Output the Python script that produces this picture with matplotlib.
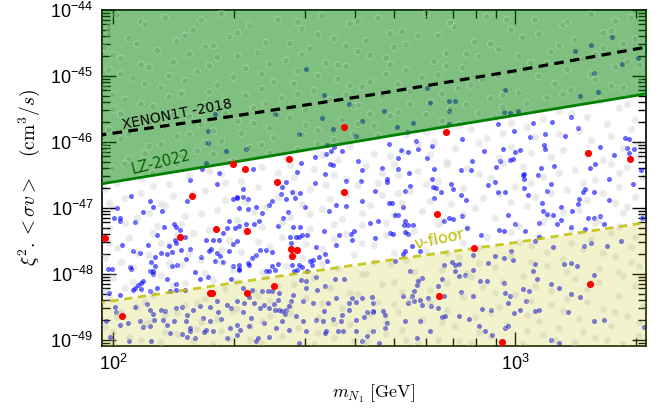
import numpy as np
import matplotlib.pyplot as plt
from matplotlib.ticker import LogLocator, FuncFormatter, NullFormatter

plt.rcParams['font.family'] = ['Liberation Sans', 'DejaVu Sans']
plt.rcParams['mathtext.fontset'] = 'cm'

# limits / exclusion curves (log10 m [GeV], log10 <sigma v> [cm^3/s])
lz_logm = [1.96, 2.30, 2.70, 3.00, 3.34]
lz_logsig = [-46.65, -46.31, -45.90, -45.60, -45.26]
xenon_logm = [1.96, 2.306, 2.644, 2.99, 3.34]
xenon_logsig = [-45.905, -45.606, -45.288, -44.935, -44.55]
nu_logm = [1.96, 2.316, 2.654, 2.993, 3.34]
nu_logsig = [-48.447, -48.126, -47.823, -47.535, -47.21]

# scan points (log10 m, log10 sigma)
red_pts = [
    (2.299, -46.344), (2.328, -46.414), (2.438, -46.262), (2.409, -46.611), (2.198, -46.823),
    (2.575, -45.783), (2.829, -45.848), (2.575, -46.768), (3.181, -46.171), (3.287, -46.262),
    (1.980, -47.459), (2.167, -47.439), (2.256, -47.323), (2.334, -47.348), (2.443, -47.621),
    (2.459, -47.636), (2.445, -47.727), (2.241, -48.292), (2.247, -48.292), (2.334, -48.292),
    (2.401, -48.182), (2.022, -48.636), (2.807, -47.091), (2.898, -47.617), (2.812, -48.338),
    (3.186, -48.156), (2.967, -49.041),
]

blue_pts = [
    # inside the excluded (green) band
    (2.480, -44.898), (2.525, -45.288), (2.520, -45.647), (2.547, -45.814), (2.462, -45.889),
    (2.403, -45.586), (2.236, -45.838), (2.236, -46.020), (2.282, -46.147), (2.331, -46.111),
    (2.231, -46.329), (2.551, -46.086), (2.254, -45.580), (2.587, -45.420), (2.619, -45.686),
    (2.532, -46.056), (2.604, -45.920), (2.782, -45.182), (2.790, -45.405), (2.837, -45.389),
    (2.851, -45.389), (2.674, -45.530), (2.836, -45.530), (2.747, -45.723), (2.706, -45.773),
    (2.837, -45.727), (2.732, -45.853), (2.974, -45.556), (2.976, -45.208), (2.988, -45.565),
    (3.242, -44.405), (3.190, -44.526), (3.150, -44.617), (3.307, -44.727), (3.266, -44.814),
    (3.196, -44.950), (3.208, -45.247), (3.161, -45.308), (3.007, -45.541),
    # between LZ and the neutrino floor
    (2.688, -46.035), (2.754, -45.995), (2.716, -46.132), (2.735, -46.152), (2.759, -46.111),
    (2.795, -46.061), (2.868, -45.959), (2.958, -45.727), (2.923, -46.136), (2.709, -46.253),
    (2.782, -46.242), (2.893, -46.298), (2.963, -46.288), (2.669, -46.398), (2.709, -46.409),
    (2.736, -46.474), (2.798, -46.420), (2.866, -46.435), (2.890, -46.435), (2.953, -46.379),
    (2.987, -46.277), (3.045, -45.708), (3.092, -45.697), (3.140, -45.632), (3.158, -45.792),
    (2.997, -45.833), (3.076, -45.879), (3.037, -45.929), (3.125, -45.914), (3.273, -45.944),
    (3.285, -45.965), (3.072, -46.045), (3.013, -46.121), (3.074, -46.117), (3.211, -46.086),
    (3.278, -46.095), (3.296, -46.106), (3.001, -46.152), (3.246, -46.197), (3.283, -46.167),
    (2.995, -46.262), (3.188, -46.394), (3.200, -46.344), (3.065, -46.394), (3.097, -46.374),
    (3.022, -46.489), (3.314, -46.429), (2.348, -46.414), (2.502, -46.232), (2.530, -46.182),
    (2.542, -46.147), (2.611, -46.288), (2.619, -46.435), (2.547, -46.353), (2.467, -46.329),
    (2.458, -46.455), (2.528, -46.489), (2.223, -46.420), (2.264, -46.474), (2.571, -46.147),
    (2.540, -46.344), (2.971, -46.111),
    (2.191, -46.576), (2.258, -46.641), (2.298, -46.864), (2.308, -46.854), (2.046, -46.818),
    (2.092, -46.904), (2.100, -46.995), (2.075, -47.066), (2.122, -47.045), (2.185, -46.904),
    (2.011, -47.010), (2.003, -47.157), (2.019, -47.157), (2.019, -47.207), (2.055, -47.217),
    (2.127, -47.288), (2.152, -47.247), (2.157, -47.298), (2.167, -47.338), (2.109, -47.409),
    (2.179, -47.439), (2.154, -47.485), (2.140, -47.576), (2.158, -47.535), (2.169, -47.641),
    (2.146, -47.672), (2.134, -47.702), (2.120, -47.692), (2.024, -47.566), (2.051, -47.651),
    (2.067, -47.682), (2.088, -47.561), (2.105, -47.752), (2.096, -47.823), (2.105, -47.889),
    (2.092, -47.954), (2.100, -47.965), (2.100, -48.005), (2.146, -47.889), (2.160, -47.864),
    (2.182, -47.778), (2.192, -47.621), (2.220, -47.752), (2.238, -47.651), (2.243, -47.621),
    (2.258, -47.687), (2.231, -47.485), (2.248, -47.485), (2.265, -47.485), (2.274, -47.384),
    (2.284, -47.308), (2.289, -47.207), (2.303, -47.308), (2.309, -47.500), (2.298, -47.550),
    (2.289, -47.651), (2.266, -47.737), (2.254, -47.803), (2.274, -47.823), (2.298, -47.889),
    (2.314, -47.929), (2.205, -47.980), (2.216, -48.076), (2.236, -48.045), (2.293, -48.076),
    (1.988, -47.924), (1.999, -47.929), (2.042, -47.894), (2.046, -47.924), (2.075, -48.106),
    (2.071, -48.141), (2.063, -48.177), (2.134, -48.081), (2.158, -48.156), (2.054, -48.217),
    (2.071, -48.227), (2.019, -48.328), (1.991, -48.293), (2.051, -48.242), (2.092, -48.268),
    (2.110, -48.217), (2.142, -48.257), (2.158, -48.242), (2.179, -48.242),
    (2.323, -46.712), (2.309, -46.843), (2.324, -46.843), (2.336, -46.874), (2.314, -47.005),
    (2.336, -47.025), (2.357, -46.990), (2.371, -47.086), (2.389, -46.965), (2.397, -46.904),
    (2.430, -46.611), (2.422, -46.692), (2.419, -46.793), (2.430, -46.874), (2.445, -46.763),
    (2.454, -46.854), (2.465, -46.778), (2.502, -46.621), (2.478, -46.985), (2.538, -47.045),
    (2.555, -46.965), (2.580, -46.980), (2.581, -46.591), (2.617, -46.591), (2.619, -46.894),
    (2.639, -47.227), (2.600, -47.359), (2.592, -47.399), (2.594, -47.485), (2.555, -47.561),
    (2.563, -47.409), (2.526, -47.359), (2.505, -47.601), (2.512, -47.752), (2.490, -47.803),
    (2.495, -47.874), (2.470, -47.894), (2.482, -47.965), (2.459, -47.939), (2.451, -47.965),
    (2.464, -47.864), (2.445, -47.874), (2.410, -47.853), (2.397, -47.889), (2.404, -47.939),
    (2.381, -47.954), (2.389, -47.965), (2.356, -47.712), (2.347, -47.763), (2.335, -47.833),
    (2.339, -47.874), (2.314, -47.939), (2.314, -47.864), (2.366, -47.636), (2.382, -47.636),
    (2.396, -47.672), (2.314, -47.283), (2.331, -47.247), (2.352, -47.247), (2.364, -47.207),
    (2.412, -47.283), (2.424, -47.157), (2.435, -47.066), (2.447, -47.298), (2.455, -47.449),
    (2.464, -47.449), (2.470, -47.409), (2.465, -47.298), (2.482, -47.419), (2.440, -47.449),
    (2.443, -47.535), (2.528, -47.697), (2.532, -47.813), (2.497, -47.788),
    (2.682, -46.561), (2.681, -46.611), (2.740, -46.667), (2.727, -46.742), (2.794, -46.561),
    (2.796, -46.692), (2.804, -46.702), (2.816, -46.763), (2.800, -46.854), (2.840, -46.641),
    (2.847, -46.712), (2.866, -46.813), (2.878, -46.879), (2.934, -46.662), (2.951, -46.611),
    (2.959, -46.763), (2.976, -46.763), (2.653, -46.753), (2.686, -46.929), (2.694, -46.929),
    (2.721, -46.990), (2.702, -47.116), (2.709, -47.116), (2.659, -47.207), (2.727, -47.207),
    (2.725, -47.268), (2.735, -47.268), (2.746, -47.268), (2.727, -47.369), (2.735, -47.399),
    (2.690, -47.384), (2.696, -47.399), (2.837, -47.157), (2.845, -47.167), (2.825, -47.197),
    (2.868, -47.121), (2.881, -47.308), (2.916, -47.419), (2.961, -47.333), (2.972, -47.348),
    (2.765, -47.651), (2.727, -47.662), (2.721, -47.702), (2.744, -47.586), (2.651, -47.460),
    (3.020, -46.500), (3.024, -46.571), (3.057, -46.510), (3.089, -46.636), (3.080, -46.742),
    (3.024, -46.702), (3.032, -46.813), (3.067, -46.929), (2.983, -47.106), (3.070, -47.056),
    (3.080, -47.096), (3.095, -47.106), (3.114, -46.985), (3.105, -47.242), (3.115, -47.192),
    (3.142, -47.056), (3.157, -46.944), (3.160, -46.864), (3.169, -46.763), (3.175, -46.722),
    (3.198, -46.763), (3.182, -47.157), (3.196, -47.157), (3.211, -47.121), (3.233, -46.879),
    (3.235, -46.571), (3.293, -46.641), (3.316, -47.157), (3.221, -47.247), (3.175, -47.318),
    (3.140, -47.293), (3.059, -47.237), (3.001, -47.247), (3.026, -47.359), (3.059, -47.444),
    # below the neutrino floor
    (2.005, -48.510), (2.008, -48.581), (2.055, -48.510), (2.084, -48.459), (2.092, -48.545),
    (2.100, -48.611), (2.121, -48.545), (2.129, -48.571), (2.157, -48.520), (2.171, -48.510),
    (2.185, -48.621), (2.200, -48.545), (2.216, -48.495), (2.241, -48.510), (2.258, -48.419),
    (2.262, -48.581), (2.283, -48.470), (2.295, -48.520), (2.308, -48.419), (1.983, -48.722),
    (2.017, -48.773), (2.038, -48.747), (2.067, -48.722), (2.092, -48.798), (2.125, -48.702),
    (2.134, -48.773), (2.152, -48.722), (2.182, -48.722), (2.192, -48.823), (2.193, -48.874),
    (2.225, -48.672), (2.241, -48.722), (2.270, -48.682), (2.291, -48.823), (2.309, -48.773),
    (1.993, -48.964), (2.041, -49.015), (2.096, -49.015), (2.143, -48.899), (2.171, -48.914),
    (2.185, -48.959), (2.204, -48.975), (2.226, -48.884), (2.250, -48.874), (2.283, -48.975),
    (2.308, -48.924), (2.074, -48.813), (2.102, -48.702), (2.231, -48.848),
    (2.323, -48.217), (2.347, -48.242), (2.372, -48.257), (2.385, -48.268), (2.397, -48.268),
    (2.339, -48.358), (2.352, -48.444), (2.327, -48.444), (2.366, -48.520), (2.376, -48.480),
    (2.389, -48.520), (2.401, -48.459), (2.410, -48.394), (2.404, -48.545), (2.414, -48.545),
    (2.420, -48.571), (2.430, -48.545), (2.429, -48.611), (2.439, -48.495), (2.443, -48.419),
    (2.468, -48.091), (2.480, -48.116), (2.505, -48.056), (2.480, -48.217), (2.507, -48.242),
    (2.528, -48.192), (2.553, -48.076), (2.555, -48.369), (2.575, -48.076), (2.588, -48.444),
    (2.596, -48.369), (2.606, -48.429), (2.621, -48.369), (2.644, -48.358), (2.646, -48.581),
    (2.633, -48.581), (2.625, -48.661), (2.606, -48.697), (2.588, -48.545), (2.571, -48.621),
    (2.567, -48.722), (2.559, -48.874), (2.573, -48.874), (2.530, -48.863), (2.528, -48.899),
    (2.523, -48.722), (2.505, -48.697), (2.480, -48.874), (2.472, -48.722), (2.455, -48.646),
    (2.439, -48.853), (2.422, -48.722), (2.405, -48.823), (2.389, -48.964), (2.360, -48.975),
    (2.356, -49.025), (2.316, -48.848), (2.343, -48.672), (2.376, -48.747), (2.497, -48.444),
    (2.472, -48.409), (2.447, -48.318), (2.414, -48.293), (2.526, -48.571), (2.534, -48.444),
    (2.548, -48.682), (2.604, -48.874), (2.633, -48.949), (2.621, -49.025), (2.464, -49.050),
    (2.339, -48.798), (2.323, -48.581),
    (2.702, -47.813), (2.823, -47.874), (2.843, -47.823), (2.850, -47.864), (2.860, -47.853),
    (2.897, -47.712), (2.934, -47.838), (2.951, -47.737), (2.972, -47.763), (2.740, -47.965),
    (2.769, -48.066), (2.760, -48.116), (2.756, -48.167), (2.810, -48.192), (2.820, -48.076),
    (2.850, -47.954), (2.862, -48.040), (2.876, -48.015), (2.897, -47.939), (2.930, -48.116),
    (2.914, -48.116), (2.974, -48.141), (2.976, -48.293), (2.983, -48.444), (2.940, -48.545),
    (2.918, -48.530), (2.897, -48.343), (2.866, -48.278), (2.823, -48.343), (2.785, -48.369),
    (2.750, -48.268), (2.744, -48.343), (2.765, -48.394), (2.769, -48.470), (2.750, -48.419),
    (2.735, -48.444), (2.723, -48.343), (2.673, -48.571), (2.676, -48.621), (2.648, -48.444),
    (2.648, -48.571), (2.682, -48.747), (2.677, -48.823), (2.727, -48.722), (2.765, -48.722),
    (2.810, -48.520), (2.792, -48.495), (2.827, -48.646), (2.818, -48.661), (2.860, -48.646),
    (2.885, -48.682), (2.910, -48.798), (2.926, -48.874), (2.943, -48.924), (2.976, -48.823),
    (2.789, -48.874), (2.756, -48.975), (2.648, -48.874), (2.661, -49.050),
    (2.991, -47.651), (3.051, -47.500), (3.095, -47.601), (3.173, -47.576), (3.190, -47.535),
    (3.230, -47.586), (3.265, -47.500), (2.995, -47.788), (3.049, -47.853), (3.122, -47.853),
    (3.140, -47.838), (3.155, -47.889), (3.045, -47.954), (3.056, -48.076), (3.089, -48.151),
    (3.109, -48.217), (3.020, -48.227), (3.034, -48.268), (3.140, -48.308), (3.163, -48.348),
    (2.987, -48.343), (3.027, -48.419), (2.999, -48.601), (3.012, -48.555), (3.051, -48.571),
    (3.061, -48.545), (3.132, -48.586), (3.198, -48.722), (3.221, -48.697), (3.198, -48.015),
    (2.983, -48.788), (3.090, -49.000), (3.109, -49.050), (3.322, -48.813),
]

gray_pts = [
    (2.01, -44.08), (2.13, -44.12), (2.27, -44.06), (2.41, -44.15), (2.52, -44.09), (2.66, -44.13),
    (2.78, -44.05), (2.93, -44.11), (3.05, -44.16), (3.19, -44.07), (3.29, -44.12),
    (1.99, -44.27), (2.08, -44.22), (2.20, -44.31), (2.34, -44.24), (2.47, -44.29), (2.59, -44.21),
    (2.72, -44.33), (2.85, -44.26), (2.99, -44.30), (3.12, -44.23), (3.24, -44.32),
    (2.04, -44.43), (2.16, -44.48), (2.29, -44.41), (2.38, -44.50), (2.55, -44.44), (2.63, -44.47),
    (2.76, -44.40), (2.90, -44.49), (3.02, -44.42), (3.15, -44.46), (3.30, -44.44),
    (1.98, -44.58), (2.11, -44.62), (2.23, -44.56), (2.36, -44.65), (2.49, -44.59), (2.61, -44.63),
    (2.70, -44.57), (2.83, -44.66), (2.96, -44.60), (3.09, -44.64), (3.22, -44.58),
    (2.02, -44.74), (2.15, -44.79), (2.26, -44.72), (2.43, -44.77), (2.53, -44.81), (2.68, -44.73),
    (2.80, -44.78), (2.91, -44.71), (3.04, -44.80), (3.17, -44.75), (3.28, -44.79),
    (1.99, -44.91), (2.09, -44.87), (2.21, -44.94), (2.33, -44.89), (2.46, -44.93), (2.58, -44.86),
    (2.73, -44.92), (2.87, -44.88), (3.00, -44.95), (3.13, -44.90), (3.25, -44.87),
    (2.05, -45.04), (2.18, -45.08), (2.30, -45.02), (2.40, -45.10), (2.56, -45.05), (2.64, -45.09),
    (2.77, -45.03), (2.92, -45.07), (3.06, -45.01), (3.20, -45.06), (3.31, -45.10),
    (1.98, -45.21), (2.12, -45.18), (2.24, -45.25), (2.37, -45.20), (2.50, -45.23), (2.62, -45.17),
    (2.74, -45.24), (2.86, -45.19), (3.01, -45.26), (3.14, -45.22), (3.27, -45.18),
    (2.03, -45.36), (2.14, -45.32), (2.28, -45.39), (2.42, -45.34), (2.54, -45.37), (2.67, -45.31),
    (2.79, -45.40), (2.94, -45.35), (3.08, -45.33), (3.21, -45.38),
    (2.00, -45.51), (2.10, -45.47), (2.22, -45.54), (2.35, -45.49), (2.48, -45.52), (2.60, -45.46),
    (2.71, -45.55), (2.84, -45.50), (2.97, -45.48), (3.11, -45.53), (3.26, -45.49),
    (2.06, -45.66), (2.19, -45.62), (2.31, -45.69), (2.44, -45.64), (2.57, -45.67), (2.69, -45.61),
    (2.82, -45.68), (2.95, -45.63), (3.07, -45.66), (3.18, -45.62), (3.30, -45.67),
    (1.99, -45.82), (2.13, -45.77), (2.25, -45.84), (2.39, -45.79), (2.51, -45.83), (2.65, -45.76),
    (2.78, -45.85), (2.89, -45.80), (3.03, -45.78), (3.16, -45.84), (3.29, -45.81),
    (2.02, -45.96), (2.16, -45.92), (2.27, -45.99), (2.40, -45.94), (2.55, -45.97), (2.66, -45.91),
    (2.80, -46.00), (2.93, -45.95), (3.05, -45.93), (3.19, -45.98), (3.24, -45.92),
    (1.98, -46.11), (2.09, -46.07), (2.21, -46.14), (2.34, -46.09), (2.46, -46.12), (2.59, -46.06),
    (2.72, -46.15), (2.85, -46.10), (2.99, -46.08), (3.12, -46.13), (3.27, -46.09),
    (2.04, -46.26), (2.17, -46.22), (2.30, -46.29), (2.43, -46.24), (2.56, -46.27), (2.69, -46.21),
    (2.83, -46.30), (2.96, -46.25), (3.09, -46.23), (3.22, -46.28), (3.31, -46.22),
    (2.00, -46.41), (2.12, -46.37), (2.24, -46.44), (2.37, -46.39), (2.50, -46.42), (2.63, -46.36),
    (2.76, -46.45), (2.88, -46.40), (3.02, -46.38), (3.15, -46.43), (3.28, -46.39),
    (2.07, -46.56), (2.19, -46.52), (2.32, -46.59), (2.45, -46.54), (2.58, -46.57), (2.71, -46.51),
    (2.81, -46.60), (2.94, -46.55), (3.07, -46.53), (3.20, -46.58), (3.32, -46.54),
    (1.98, -46.71), (2.10, -46.67), (2.23, -46.74), (2.36, -46.69), (2.49, -46.72), (2.61, -46.66),
    (2.74, -46.75), (2.87, -46.70), (3.00, -46.68), (3.13, -46.73), (3.26, -46.69),
    (2.03, -46.86), (2.15, -46.82), (2.28, -46.89), (2.41, -46.84), (2.54, -46.87), (2.67, -46.81),
    (2.79, -46.90), (2.92, -46.85), (3.05, -46.83), (3.18, -46.88), (3.30, -46.84),
    (2.00, -47.01), (2.13, -46.97), (2.26, -47.04), (2.38, -46.99), (2.52, -47.02), (2.64, -46.96),
    (2.77, -47.05), (2.90, -47.00), (3.03, -46.98), (3.16, -47.03), (3.28, -46.99),
    (2.06, -47.16), (2.18, -47.12), (2.31, -47.19), (2.44, -47.14), (2.57, -47.17), (2.70, -47.11),
    (2.82, -47.20), (2.95, -47.15), (3.08, -47.13), (3.21, -47.18), (3.32, -47.14),
    (1.99, -47.31), (2.11, -47.27), (2.24, -47.34), (2.37, -47.29), (2.49, -47.32), (2.62, -47.26),
    (2.75, -47.35), (2.88, -47.30), (3.01, -47.28), (3.14, -47.33), (3.26, -47.29),
    (2.04, -47.46), (2.16, -47.42), (2.29, -47.49), (2.42, -47.44), (2.55, -47.47), (2.68, -47.41),
    (2.80, -47.50), (2.93, -47.45), (3.06, -47.43), (3.19, -47.48), (3.30, -47.44),
    (2.01, -47.61), (2.14, -47.57), (2.27, -47.64), (2.39, -47.59), (2.52, -47.62), (2.65, -47.56),
    (2.78, -47.65), (2.91, -47.60), (3.04, -47.58), (3.17, -47.63), (3.29, -47.59),
    (1.98, -47.76), (2.09, -47.72), (2.22, -47.79), (2.35, -47.74), (2.47, -47.77), (2.60, -47.71),
    (2.73, -47.80), (2.86, -47.75), (2.99, -47.73), (3.12, -47.78), (3.25, -47.74),
    (2.05, -47.91), (2.17, -47.87), (2.30, -47.94), (2.43, -47.89), (2.56, -47.92), (2.69, -47.86),
    (2.82, -47.95), (2.95, -47.90), (3.08, -47.88), (3.21, -47.93), (3.31, -47.89),
    (2.00, -48.06), (2.12, -48.02), (2.25, -48.09), (2.38, -48.04), (2.50, -48.07), (2.63, -48.01),
    (2.76, -48.10), (2.89, -48.05), (3.02, -48.03), (3.15, -48.08), (3.27, -48.04),
    (2.03, -48.21), (2.15, -48.17), (2.28, -48.24), (2.41, -48.19), (2.54, -48.22), (2.67, -48.16),
    (2.79, -48.25), (2.92, -48.20), (3.05, -48.18), (3.18, -48.23), (3.30, -48.19),
    (1.99, -48.36), (2.10, -48.32), (2.23, -48.39), (2.36, -48.34), (2.48, -48.37), (2.61, -48.31),
    (2.74, -48.40), (2.87, -48.35), (3.00, -48.33), (3.13, -48.38), (3.26, -48.34),
    (2.06, -48.51), (2.18, -48.47), (2.31, -48.54), (2.44, -48.49), (2.57, -48.52), (2.70, -48.46),
    (2.83, -48.55), (2.96, -48.50), (3.09, -48.48), (3.22, -48.53), (3.32, -48.49),
    (2.01, -48.66), (2.13, -48.62), (2.26, -48.69), (2.39, -48.64), (2.51, -48.67), (2.64, -48.61),
    (2.77, -48.70), (2.90, -48.65), (3.03, -48.63), (3.16, -48.68), (3.28, -48.64),
    (1.98, -48.81), (2.08, -48.77), (2.21, -48.84), (2.34, -48.79), (2.46, -48.82), (2.59, -48.76),
    (2.72, -48.85), (2.85, -48.80), (2.98, -48.78), (3.11, -48.83), (3.24, -48.79),
    (2.04, -48.96), (2.16, -48.92), (2.29, -48.99), (2.42, -48.94), (2.55, -48.97), (2.68, -48.91),
    (2.81, -49.00), (2.94, -48.95), (3.07, -48.93), (3.20, -48.98), (3.31, -48.94),
    (2.00, -49.06), (2.12, -49.04), (2.25, -49.07), (2.37, -49.05), (2.50, -49.06), (2.63, -49.04),
    (2.76, -49.07), (2.89, -49.05), (3.02, -49.06), (3.15, -49.04), (3.27, -49.07),
    # second pass of the background scan
    (2.07, -44.18), (2.22, -44.16), (2.46, -44.19), (2.61, -44.17), (2.84, -44.20), (2.98, -44.15), (3.13, -44.19), (3.25, -44.17),
    (1.99, -44.36), (2.18, -44.39), (2.31, -44.35), (2.51, -44.38), (2.69, -44.36), (2.81, -44.39), (3.06, -44.37), (3.22, -44.35),
    (2.06, -44.52), (2.25, -44.54), (2.44, -44.51), (2.58, -44.55), (2.73, -44.53), (2.94, -44.52), (3.11, -44.54), (3.27, -44.51),
    (2.00, -44.69), (2.19, -44.67), (2.31, -44.70), (2.47, -44.68), (2.64, -44.69), (2.88, -44.67), (3.01, -44.70), (3.20, -44.68),
    (2.07, -44.83), (2.24, -44.85), (2.39, -44.82), (2.56, -44.84), (2.69, -44.83), (2.83, -44.85), (3.08, -44.82), (3.31, -44.84),
    (2.02, -44.98), (2.14, -45.00), (2.37, -44.97), (2.51, -45.00), (2.68, -44.98), (2.81, -44.99), (2.96, -45.00), (3.19, -44.98),
    (2.08, -45.13), (2.26, -45.14), (2.45, -45.12), (2.59, -45.15), (2.71, -45.13), (2.89, -45.14), (3.10, -45.12), (3.24, -45.15),
    (2.00, -45.29), (2.17, -45.27), (2.33, -45.30), (2.46, -45.28), (2.58, -45.29), (2.82, -45.27), (2.97, -45.30), (3.12, -45.28),
    (2.07, -45.43), (2.23, -45.44), (2.38, -45.42), (2.61, -45.45), (2.74, -45.43), (2.88, -45.44), (3.03, -45.42), (3.28, -45.43),
    (2.02, -45.58), (2.15, -45.59), (2.28, -45.57), (2.41, -45.60), (2.64, -45.58), (2.78, -45.59), (2.91, -45.57), (3.14, -45.58),
    (2.09, -45.73), (2.22, -45.74), (2.35, -45.72), (2.48, -45.75), (2.61, -45.73), (2.86, -45.74), (2.99, -45.72), (3.23, -45.73),
    (2.04, -45.88), (2.19, -45.89), (2.32, -45.87), (2.47, -45.90), (2.60, -45.88), (2.73, -45.89), (2.97, -45.87), (3.11, -45.88),
    (1.98, -46.03), (2.12, -46.04), (2.23, -46.02), (2.37, -46.05), (2.51, -46.03), (2.76, -46.04), (2.91, -46.02), (3.31, -46.03),
    (2.08, -46.18), (2.25, -46.19), (2.39, -46.17), (2.52, -46.20), (2.65, -46.18), (2.79, -46.19), (3.04, -46.17), (3.18, -46.18),
    (2.03, -46.33), (2.16, -46.34), (2.29, -46.32), (2.44, -46.35), (2.70, -46.33), (2.83, -46.34), (2.97, -46.32), (3.24, -46.33),
    (2.10, -46.48), (2.27, -46.49), (2.41, -46.47), (2.55, -46.50), (2.67, -46.48), (2.91, -46.49), (3.11, -46.47), (3.26, -46.48),
    (2.01, -46.63), (2.14, -46.64), (2.28, -46.62), (2.53, -46.65), (2.66, -46.63), (2.78, -46.64), (3.04, -46.62), (3.17, -46.63),
    (2.07, -46.78), (2.20, -46.79), (2.45, -46.77), (2.58, -46.80), (2.71, -46.78), (2.96, -46.79), (3.09, -46.77), (3.22, -46.78),
    (1.99, -46.93), (2.12, -46.94), (2.33, -46.92), (2.47, -46.95), (2.72, -46.93), (2.84, -46.94), (2.99, -46.92), (3.25, -46.93),
    (2.09, -47.08), (2.22, -47.09), (2.35, -47.07), (2.49, -47.10), (2.62, -47.08), (2.87, -47.09), (3.12, -47.07), (3.27, -47.08),
    (2.03, -47.23), (2.17, -47.24), (2.42, -47.22), (2.55, -47.25), (2.68, -47.23), (2.81, -47.24), (3.07, -47.22), (3.20, -47.23),
    (2.10, -47.38), (2.20, -47.39), (2.33, -47.37), (2.58, -47.40), (2.73, -47.38), (2.85, -47.39), (2.99, -47.37), (3.24, -47.38),
    (1.99, -47.53), (2.12, -47.54), (2.36, -47.52), (2.48, -47.55), (2.62, -47.53), (2.87, -47.54), (3.01, -47.52), (3.14, -47.53),
    (2.06, -47.68), (2.19, -47.69), (2.32, -47.67), (2.45, -47.70), (2.70, -47.68), (2.83, -47.69), (3.08, -47.67), (3.22, -47.68),
    (2.02, -47.83), (2.14, -47.84), (2.27, -47.82), (2.52, -47.85), (2.65, -47.83), (2.91, -47.84), (3.04, -47.82), (3.29, -47.83),
    (2.10, -47.98), (2.23, -47.99), (2.37, -47.97), (2.62, -48.00), (2.75, -47.98), (2.88, -47.99), (3.13, -47.97), (3.26, -47.98),
    (2.05, -48.13), (2.18, -48.14), (2.31, -48.12), (2.45, -48.15), (2.70, -48.13), (2.83, -48.14), (2.97, -48.12), (3.21, -48.13),
    (1.98, -48.28), (2.10, -48.29), (2.35, -48.27), (2.59, -48.30), (2.72, -48.28), (2.95, -48.29), (3.09, -48.27), (3.33, -48.28),
    (2.08, -48.43), (2.21, -48.44), (2.39, -48.42), (2.52, -48.45), (2.66, -48.43), (2.79, -48.44), (3.04, -48.42), (3.18, -48.43),
    (2.02, -48.58), (2.16, -48.59), (2.30, -48.57), (2.44, -48.60), (2.71, -48.58), (2.94, -48.59), (3.12, -48.57), (3.25, -48.58),
    (2.09, -48.73), (2.22, -48.74), (2.37, -48.72), (2.55, -48.75), (2.68, -48.73), (2.82, -48.74), (3.06, -48.72), (3.31, -48.73),
    (2.00, -48.88), (2.13, -48.89), (2.27, -48.87), (2.51, -48.90), (2.64, -48.88), (2.91, -48.89), (3.03, -48.87), (3.17, -48.88),
    (2.07, -49.01), (2.20, -49.02), (2.34, -49.00), (2.60, -49.02), (2.73, -49.01), (2.86, -49.02), (3.10, -49.00), (3.23, -49.01),
]

xticks = [1e2, 1e3]
yticks = [1e-49, 1e-48, 1e-47, 1e-46, 1e-45, 1e-44]


def unlog(pts):
    a = np.array(pts)
    return 10 ** a[:, 0], 10 ** a[:, 1]


fig = plt.figure(figsize=(6.7, 4.11), dpi=100)
ax = fig.add_axes([0.152, 0.159, 0.812, 0.817])
ax.set_xscale('log')
ax.set_yscale('log')

gx, gy = unlog(gray_pts)
# soft discs below the bands, faint rings on top (rings show up inside the green band)
ax.scatter(gx, gy, s=24, color='#d6d6d6', alpha=0.5, linewidths=0, zorder=1)
ax.scatter(gx, gy, s=24, facecolors='none', edgecolors=(0.9, 0.92, 0.9, 0.35), linewidths=0.7, zorder=3.5)
bx, by = unlog(blue_pts)
ax.scatter(bx, by, s=13, color='blue', alpha=0.6, linewidths=0, zorder=2)

lz_m, lz_s = 10 ** np.array(lz_logm), 10 ** np.array(lz_logsig)
xe_m, xe_s = 10 ** np.array(xenon_logm), 10 ** np.array(xenon_logsig)
nu_m, nu_s = 10 ** np.array(nu_logm), 10 ** np.array(nu_logsig)

ax.fill_between(lz_m, lz_s, 1e-43, color='green', alpha=0.5, lw=0, zorder=3)
ax.fill_between(nu_m, 1e-51, nu_s, color='y', alpha=0.2, lw=0, zorder=3)
ax.plot(lz_m, lz_s, color='green', lw=2, zorder=4)
ax.plot(xe_m, xe_s, color='black', lw=2.3, ls=(0, (3, 2)), zorder=4)
ax.plot(nu_m, nu_s, color='y', lw=2, ls=(0, (3, 2)), alpha=0.85, zorder=4)

rx, ry = unlog(red_pts)
ax.scatter(rx, ry, s=26, color='red', linewidths=0, zorder=5)

ax.text(10 ** 2.025, 10 ** -45.80, 'XENON1T -2018', fontsize=10, color='black', rotation=11,
        rotation_mode='anchor', family='DejaVu Sans', zorder=6)
ax.text(10 ** 2.05, 10 ** -46.49, 'LZ-2022', fontsize=10.5, color='darkgreen', rotation=14,
        rotation_mode='anchor', family='DejaVu Sans', zorder=6)
ax.text(10 ** 2.752, 10 ** -47.62, 'ν-floor', fontsize=11.5, color='y', rotation=12,
        rotation_mode='anchor', family='DejaVu Sans', zorder=6)

ax.set_xlim(93.9, 2118)
ax.set_ylim(8.1e-50, 1e-44)

ax.xaxis.set_major_locator(LogLocator(base=10, numticks=10))
ax.xaxis.set_minor_locator(LogLocator(base=10, subs=np.arange(2, 10), numticks=20))
ax.yaxis.set_major_locator(LogLocator(base=10, numticks=10))
ax.yaxis.set_minor_locator(LogLocator(base=10, subs=np.arange(2, 10), numticks=20))
fmt = FuncFormatter(lambda v, p: r'$\mathregular{10^{%d}}$' % round(np.log10(v)))
ax.xaxis.set_major_formatter(fmt)
ax.yaxis.set_major_formatter(fmt)
ax.xaxis.set_minor_formatter(NullFormatter())
ax.yaxis.set_minor_formatter(NullFormatter())
ax.set_xticks(xticks)
ax.set_yticks(yticks)

ax.tick_params(which='both', direction='in', top=True, right=True, width=1)
ax.tick_params(which='major', length=10, labelsize=13, pad=6)
ax.tick_params(which='minor', length=5.5)
for sp in ax.spines.values():
    sp.set_linewidth(1.2)

ax.set_xlabel(r'$m_{N_1}\ [\mathrm{GeV}]$', fontsize=13, labelpad=6)
ax.set_ylabel(r'$\xi^2.<\sigma v>\ \ \ (\mathrm{cm}^3/s)$', fontsize=14, labelpad=6)

fig.savefig('out.png', dpi=100)
